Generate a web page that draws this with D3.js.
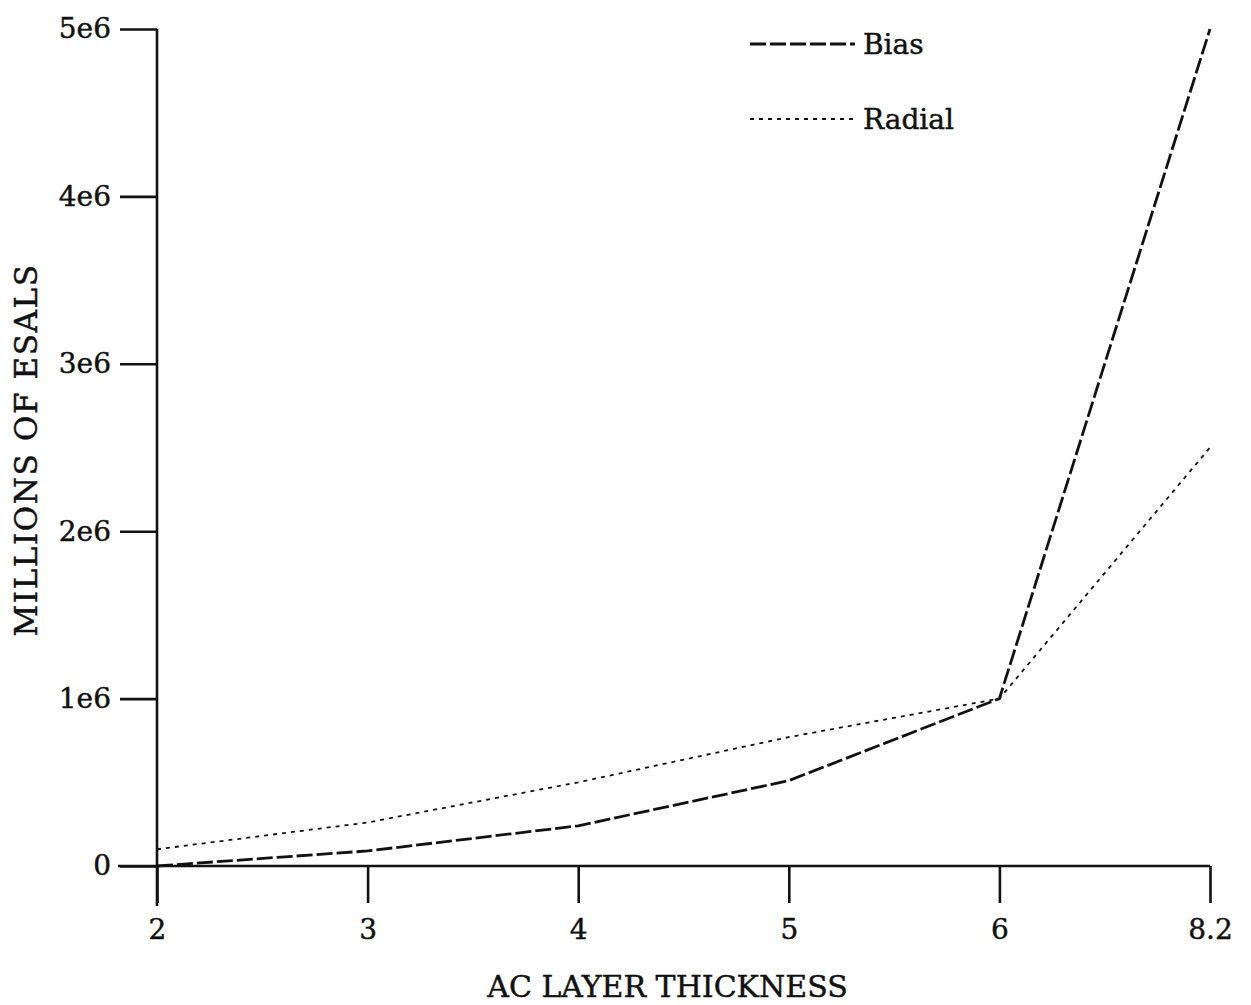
<!DOCTYPE html>
<html>
<head>
<meta charset="utf-8">
<script src="https://cdn.jsdelivr.net/npm/d3@7"></script>
<style>
  body { margin: 0; background: #fff; }
  svg { display: block; }
  text { font-family: "DejaVu Serif", serif; fill: #111; stroke: #111; stroke-width: 0.45px; }
</style>
</head>
<body>
<svg id="chart" width="1251" height="1005"></svg>
<script>
// values
var thickness = ["2", "3", "4", "5", "6", "8.2"];
var bias = [0, 90000, 240000, 510000, 1000000, 5000000];
var radial = [100000, 260000, 500000, 770000, 1000000, 2500000];
var yTicks = [0, 1e6, 2e6, 3e6, 4e6, 5e6];

var dimensions = {
    width: 1251,
    height: 1005,
    margin: { top: 29, bottom: 139, right: 41, left: 157 }
};

var svg = d3.select("#chart");

var xScale = d3.scalePoint()
    .domain(thickness)
    .range([dimensions.margin.left, dimensions.width - dimensions.margin.right]);

var yScale = d3.scaleLinear()
    .domain([0, 5e6])
    .range([dimensions.height - dimensions.margin.bottom, dimensions.margin.top]);

var y0 = yScale(0);
var tickLen = 37;

// axes
var xAxis = svg.append("g")
    .attr("transform", `translate(0,${y0})`)
    .call(d3.axisBottom(xScale).tickSize(tickLen).tickPadding(16).tickSizeOuter(0));

var yAxis = svg.append("g")
    .attr("transform", `translate(${dimensions.margin.left},0)`)
    .call(d3.axisLeft(yScale)
        .tickValues(yTicks)
        .tickFormat(d => d === 0 ? "0" : (d / 1e6) + "e6")
        .tickSize(tickLen)
        .tickPadding(9)
        .tickSizeOuter(0));

svg.selectAll(".domain").remove();
svg.selectAll(".tick line").attr("stroke", "#111").attr("stroke-width", 2.6);
svg.selectAll(".tick text").style("font-size", "28px").style("font-family", "DejaVu Serif, serif").attr("fill", "#111");

// axis lines cross at the origin
svg.append("line")
    .attr("x1", xScale("2") - 39).attr("x2", xScale("8.2"))
    .attr("y1", y0).attr("y2", y0)
    .attr("stroke", "#111").attr("stroke-width", 2.6);
svg.append("line")
    .attr("x1", dimensions.margin.left).attr("x2", dimensions.margin.left)
    .attr("y1", yScale(5e6)).attr("y2", y0 + tickLen + 3)
    .attr("stroke", "#111").attr("stroke-width", 2.6);

// lines
var line = d3.line()
    .x((d, i) => xScale(thickness[i]))
    .y(d => yScale(d));

svg.append("path")
    .datum(bias)
    .attr("d", line)
    .attr("fill", "none")
    .attr("stroke", "#111")
    .attr("stroke-width", 2.8)
    .attr("stroke-dasharray", "16,4");

svg.append("path")
    .datum(radial)
    .attr("d", line)
    .attr("fill", "none")
    .attr("stroke", "#111")
    .attr("stroke-width", 1.8)
    .attr("stroke-dasharray", "4,5");

// legend
var legend = svg.append("g").attr("transform", "translate(750,44)");
legend.append("line").attr("x1", 0).attr("x2", 105).attr("y1", 0).attr("y2", 0)
    .attr("stroke", "#111").attr("stroke-width", 2.8).attr("stroke-dasharray", "16,4");
legend.append("text").attr("x", 113).attr("y", 10).style("font-size", "28px").text("Bias");
legend.append("line").attr("x1", 0).attr("x2", 105).attr("y1", 75).attr("y2", 75)
    .attr("stroke", "#111").attr("stroke-width", 1.8).attr("stroke-dasharray", "4,5");
legend.append("text").attr("x", 113).attr("y", 85).style("font-size", "28px").text("Radial");

// axis titles
svg.append("text")
    .attr("x", (xScale("2") + xScale("8.2")) / 2 - 16)
    .attr("y", 997)
    .style("text-anchor", "middle")
    .style("font-size", "30px")
    .text("AC LAYER THICKNESS");

svg.append("text")
    .attr("transform", "translate(37,450)rotate(-90)")
    .style("text-anchor", "middle")
    .style("font-size", "31px")
    .style("letter-spacing", "1.6px")
    .text("MILLIONS OF ESALS");
</script>
</body>
</html>
